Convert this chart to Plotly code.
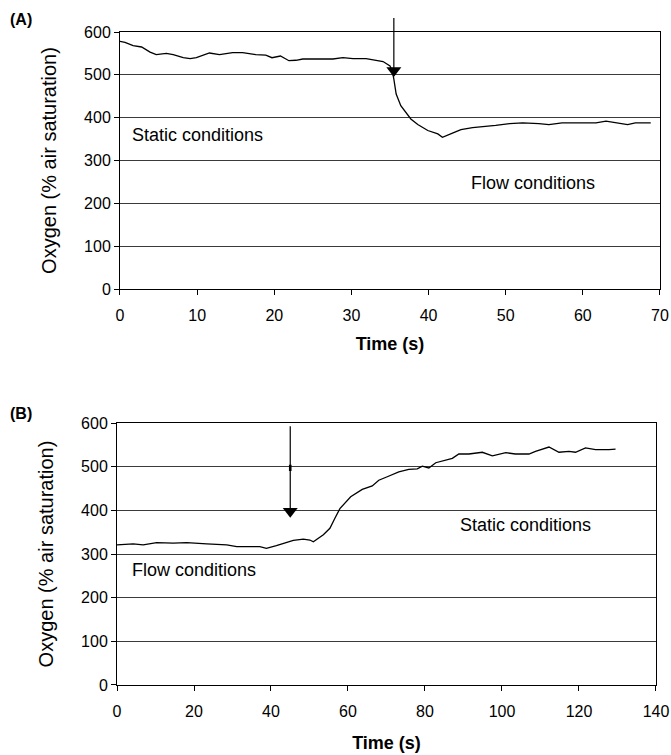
import plotly.graph_objects as go

# Panel A data (time s, oxygen % air saturation)
time_a = [0, 0.65, 1.7, 2.8, 3.9, 4.7, 6.0, 6.9, 8.2, 9.1, 9.9, 11.6, 12.9, 14.6, 15.9,
          17.6, 18.9, 19.7, 20.8, 21.9, 22.8, 23.7, 27.6, 28.9, 30.2, 31.9, 33.2, 34.1,
          35.0, 35.3, 35.5, 35.8, 36.4, 37.7, 38.6, 39.9, 41.2, 41.8, 43.1, 44.2, 45.7,
          47.4, 48.7, 50.5, 52.2, 54.3, 55.6, 57.3, 59.9, 61.7, 63.0, 64.3, 65.8, 66.8, 68.8]
oxy_a = [578, 576, 568, 565, 553, 547, 550, 547, 540, 538, 540, 551, 547, 552, 552,
         547, 546, 540, 544, 533, 534, 537, 537, 540, 538, 538, 534, 531,
         521, 509, 490, 455, 428, 397, 384, 370, 362, 354, 364, 372, 377,
         379, 382, 386, 388, 386, 384, 388, 388, 388, 392, 389, 384, 388, 388]

# Panel B data
time_b = [0, 4.2, 6.8, 10.3, 14.6, 18.1, 23.3, 28.5, 31.1, 37.1, 38.8, 41.4, 45.8, 48.4,
          50.1, 51.0, 53.6, 55.3, 56.6, 57.9, 60.7, 63.7, 66.3, 68.0, 70.2, 73.2, 75.8,
          78.0, 79.3, 81.0, 82.8, 85.4, 87.1, 88.8, 91.4, 94.9, 97.5, 101.0, 103.5, 107.0,
          108.7, 112.2, 114.8, 117.4, 119.1, 121.7, 124.3, 127.8, 129.5]
oxy_b = [321, 323, 321, 326, 325, 326, 323, 321, 317, 317, 313, 319, 331, 334,
         332, 328, 344, 359, 382, 404, 431, 448, 456, 469, 477, 488, 494,
         495, 501, 497, 509, 514, 519, 529, 529, 533, 525, 532, 529, 529,
         535, 545, 533, 535, 533, 543, 539, 539, 540]

y_ticks = [0, 100, 200, 300, 400, 500, 600]
xa_ticks = [0, 10, 20, 30, 40, 50, 60, 70]
xb_ticks = [0, 20, 40, 60, 80, 100, 120, 140]

arrow_a = dict(x=35.5, top=636, tip=510)
arrow_b = dict(x=45, top=596, tip=398, mark_top=508, mark_bottom=490)

FONT = "Liberation Sans, Arial, sans-serif"
GRID = "#3a3a3a"

fig = go.Figure()
fig.add_trace(go.Scatter(x=time_a, y=oxy_a, mode="lines", line=dict(color="black", width=1.3),
                         xaxis="x", yaxis="y", showlegend=False, hoverinfo="skip"))
fig.add_trace(go.Scatter(x=time_b, y=oxy_b, mode="lines", line=dict(color="black", width=1.3),
                         xaxis="x2", yaxis="y2", showlegend=False, hoverinfo="skip"))
# arrowheads
fig.add_trace(go.Scatter(x=[arrow_a["x"]], y=[arrow_a["tip"]], mode="markers",
                         marker=dict(symbol="triangle-down", size=13, color="black"),
                         xaxis="x", yaxis="y", showlegend=False, cliponaxis=False, hoverinfo="skip"))
fig.add_trace(go.Scatter(x=[arrow_b["x"]], y=[arrow_b["tip"]], mode="markers",
                         marker=dict(symbol="triangle-down", size=13, color="black"),
                         xaxis="x2", yaxis="y2", showlegend=False, cliponaxis=False, hoverinfo="skip"))

axis_common = dict(showline=True, linecolor="black", linewidth=1, mirror=True,
                   ticks="outside", ticklen=5, tickcolor="black", zeroline=False,
                   automargin=False,
                   tickfont=dict(family=FONT, size=16, color="black"))
xtitle_font = dict(family=FONT, size=18, color="black")
ytitle_font = dict(family=FONT, size=20, color="black")

fig.update_layout(
    width=671, height=755,
    margin=dict(l=117, r=11, t=32, b=70),
    plot_bgcolor="white", paper_bgcolor="white",
    xaxis=dict(domain=[0.0055, 1.0], range=[0, 70], tickvals=xa_ticks, showgrid=False,
               anchor="y", ticklabelstandoff=7,
               title=dict(text="<b>Time (s)</b>", font=xtitle_font, standoff=14),
               **axis_common),
    yaxis=dict(domain=[0.6064, 1.0], range=[0, 600], tickvals=y_ticks, showgrid=True,
               gridcolor=GRID, gridwidth=1, anchor="x",
               title=dict(text="Oxygen (% air saturation)", font=ytitle_font, standoff=22),
               **axis_common),
    xaxis2=dict(domain=[0.0, 0.9926], range=[0, 140], tickvals=xb_ticks, showgrid=False,
                anchor="y2", ticklabelstandoff=7,
                title=dict(text="<b>Time (s)</b>", font=xtitle_font, standoff=17),
                **axis_common),
    yaxis2=dict(domain=[0.0, 0.4012], range=[0, 600], tickvals=y_ticks, showgrid=True,
                gridcolor=GRID, gridwidth=1, anchor="x2",
                title=dict(text="Oxygen (% air saturation)", font=ytitle_font, standoff=22),
                **axis_common),
)

txt_font = dict(family=FONT, size=18, color="black")
label_font = dict(family=FONT, size=16, color="black")
ann = [
    dict(x=1.3, y=360, xref="x", yref="y", text="Static conditions", showarrow=False,
         xanchor="left", yanchor="middle", font=txt_font),
    dict(x=45.3, y=248, xref="x", yref="y", text="Flow conditions", showarrow=False,
         xanchor="left", yanchor="middle", font=txt_font),
    dict(x=88.6, y=366, xref="x2", yref="y2", text="Static conditions", showarrow=False,
         xanchor="left", yanchor="middle", font=txt_font),
    dict(x=3.5, y=263, xref="x2", yref="y2", text="Flow conditions", showarrow=False,
         xanchor="left", yanchor="middle", font=txt_font),
    # arrow shafts
    dict(x=arrow_a["x"], y=arrow_a["tip"], ax=arrow_a["x"], ay=arrow_a["top"],
         xref="x", yref="y", axref="x", ayref="y", text="", showarrow=True,
         arrowhead=0, arrowwidth=1.2, arrowcolor="black", standoff=0, startstandoff=0),
    dict(x=arrow_b["x"], y=arrow_b["tip"], ax=arrow_b["x"], ay=arrow_b["top"],
         xref="x2", yref="y2", axref="x2", ayref="y2", text="", showarrow=True,
         arrowhead=0, arrowwidth=1.2, arrowcolor="black", standoff=0, startstandoff=0),
    dict(x=arrow_b["x"], y=arrow_b["mark_bottom"], ax=arrow_b["x"], ay=arrow_b["mark_top"],
         xref="x2", yref="y2", axref="x2", ayref="y2", text="", showarrow=True,
         arrowhead=0, arrowwidth=2.6, arrowcolor="black", standoff=0, startstandoff=0),
    # panel labels (paper coords)
    dict(x=-109 / 543, y=1 + (32 - 20) / 653, xref="paper", yref="paper",
         text="<b>(A)</b>", showarrow=False, xanchor="left", yanchor="middle", font=label_font),
    dict(x=-109 / 543, y=1 - (413 - 32) / 653, xref="paper", yref="paper",
         text="<b>(B)</b>", showarrow=False, xanchor="left", yanchor="middle", font=label_font),
]
fig.update_layout(annotations=ann)

fig.write_html("out.html")
